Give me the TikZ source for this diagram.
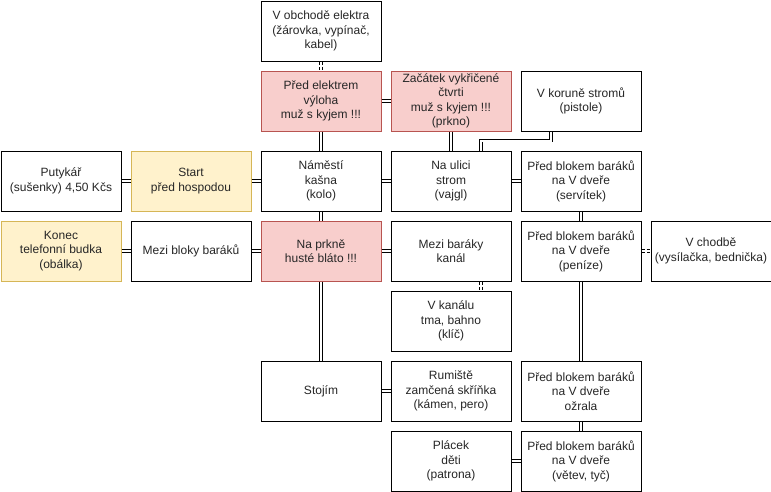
\documentclass[tikz,border=0pt]{standalone}
\usepackage{fontspec}
\setmainfont{Liberation Sans}
\definecolor{redfill}{HTML}{F8CECC}
\definecolor{redline}{HTML}{B85450}
\definecolor{yelfill}{HTML}{FFF2CC}
\definecolor{yelline}{HTML}{D6B656}
\begin{document}
\begin{tikzpicture}[x=1pt,y=-1pt,
  box/.style={draw, line width=1pt, minimum width=120pt, minimum height=60pt,
    align=center, inner sep=0pt, anchor=north west, fill=white,
    font=\fontsize{12}{14.5}\selectfont, text=black!85},
  redbox/.style={box, fill=redfill, draw=redline},
  yelbox/.style={box, fill=yelfill, draw=yelline},
  link/.style={draw, double, double distance=2pt, line width=0.9pt},
  dlink/.style={link, dashed, dash pattern=on 3pt off 2pt}]
\useasboundingbox (0,0) rectangle (771,491);
% row 0
\node[box] (obchod) at (260.5,0.5) {V obchodě elektra\\(žárovka, vypínač,\\kabel)};
% row 1
\node[redbox] (elektrem) at (260.5,70.5) {Před elektrem\\výloha\\muž s kyjem !!!};
\node[redbox] (zacatek) at (390.5,70.5) {Začátek vykřičené\\čtvrti\\muž s kyjem !!!\\(prkno)};
\node[box] (koruna) at (520.5,70.5) {V koruně stromů\\(pistole)};
% row 2
\node[box] (putykar) at (0.5,150.5) {Putykář\\(sušenky) 4,50 Kčs};
\node[yelbox] (start) at (130.5,150.5) {Start\\před hospodou};
\node[box] (namesti) at (260.5,150.5) {Náměstí\\kašna\\(kolo)};
\node[box] (ulice) at (390.5,150.5) {Na ulici\\strom\\(vajgl)};
\node[box] (servitek) at (520.5,150.5) {Před blokem baráků\\na V dveře\\(servítek)};
% row 3
\node[yelbox] (konec) at (0.5,220.5) {Konec\\telefonní budka\\(obálka)};
\node[box] (mezibloky) at (130.5,220.5) {Mezi bloky baráků};
\node[redbox] (prkno) at (260.5,220.5) {Na prkně\\husté bláto !!!};
\node[box] (kanal) at (390.5,220.5) {Mezi baráky\\kanál};
\node[box] (penize) at (520.5,220.5) {Před blokem baráků\\na V dveře\\(peníze)};
\node[box] (chodba) at (650.5,220.5) {V chodbě\\(vysílačka, bednička)};
% row 4
\node[box] (vkanalu) at (390.5,290.5) {V kanálu\\tma, bahno\\(klíč)};
% row 5
\node[box] (stojim) at (260.5,360.5) {Stojím};
\node[box] (rumiste) at (390.5,360.5) {Rumiště\\zamčená skříňka\\(kámen, pero)};
\node[box] (ozrala) at (520.5,360.5) {Před blokem baráků\\na V dveře\\ožrala};
% row 6
\node[box] (placek) at (390.5,430.5) {Plácek\\děti\\(patrona)};
\node[box] (vetev) at (520.5,430.5) {Před blokem baráků\\na V dveře\\(větev, tyč)};
% connectors
\draw[dlink] (obchod.south) -- (elektrem.north);
\draw[link] (elektrem.east) -- (zacatek.west);
\draw[link] (elektrem.south) -- (namesti.north);
\draw[link] (zacatek.south) -- (ulice.north);
\draw[link] ([xshift=-30pt]koruna.south) -- ++(0,9) -| ([xshift=30pt]ulice.north);
\draw[link] (putykar.east) -- (start.west);
\draw[link] (start.east) -- (namesti.west);
\draw[link] (namesti.east) -- (ulice.west);
\draw[link] (ulice.east) -- (servitek.west);
\draw[link] (namesti.south) -- (prkno.north);
\draw[link] (konec.east) -- (mezibloky.west);
\draw[link] (mezibloky.east) -- (prkno.west);
\draw[link] (prkno.east) -- (kanal.west);
\draw[link] (servitek.south) -- (penize.north);
\draw[dlink] (penize.east) -- (chodba.west);
\draw[dlink] ([xshift=30pt]kanal.south) -- ([xshift=30pt]vkanalu.north);
\draw[link] (prkno.south) -- (stojim.north);
\draw[link] (penize.south) -- (ozrala.north);
\draw[link] (stojim.east) -- (rumiste.west);
\draw[link] (ozrala.south) -- (vetev.north);
\draw[link] (placek.east) -- (vetev.west);
\end{tikzpicture}
\end{document}
